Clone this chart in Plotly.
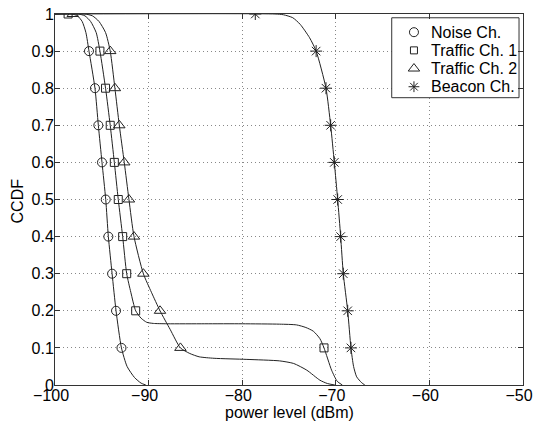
import plotly.graph_objects as go

# ---- smooth CCDF curves ----
noise_x = [-100, -98.2, -97.6, -97.1, -96.7, -96.37, -95.73, -95.37, -94.98, -94.58, -94.3, -93.9, -93.48, -92.9, -92.3, -91.5, -90.8, -90.3]
noise_y = [1, 1, 0.995, 0.98, 0.95, 0.9, 0.8, 0.7, 0.6, 0.5, 0.4, 0.3, 0.2, 0.1, 0.05, 0.02, 0.005, 0]

traffic1_x = [-100, -97.5, -96.8, -96.2, -95.6, -95.2, -94.6, -94.1, -93.66, -93.24, -92.77, -92.34, -91.9, -91.38, -90.8, -90.2, -89.5, -88, -84, -80, -76, -74.2, -73.2, -72.4, -71.7, -71.26, -70.45, -69.85, -69.3]
traffic1_y = [1, 1, 0.995, 0.98, 0.95, 0.9, 0.8, 0.7, 0.6, 0.5, 0.4, 0.3, 0.25, 0.2, 0.18, 0.169, 0.166, 0.165, 0.165, 0.165, 0.164, 0.162, 0.155, 0.145, 0.125, 0.1, 0.04, 0.01, 0]

traffic2_x = [-100, -96.8, -96.0, -95.3, -94.6, -94.1, -93.6, -93.13, -92.6, -92.1, -91.56, -90.56, -89.7, -88.78, -87.7, -86.6, -85.6, -84.6, -83, -79.5, -76, -74.5, -73.1, -71.7, -70.9, -70.1]
traffic2_y = [1, 1, 0.995, 0.98, 0.95, 0.9, 0.8, 0.7, 0.6, 0.5, 0.4, 0.3, 0.25, 0.2, 0.15, 0.1, 0.085, 0.076, 0.072, 0.069, 0.065, 0.058, 0.04, 0.013, 0.004, 0]

beacon_x = [-100, -76.5, -75.6, -74.6, -73.8, -72.8, -72.1, -71.05, -70.55, -70.16, -69.8, -69.48, -69.2, -68.73, -68.38, -68.1, -67.77, -67.23, -66.9]
beacon_y = [1, 1, 0.998, 0.99, 0.972, 0.936, 0.9, 0.8, 0.7, 0.6, 0.5, 0.4, 0.3, 0.2, 0.1, 0.05, 0.022, 0.006, 0]

# ---- marker positions ----
noise_mx = [-96.37, -95.73, -95.37, -94.98, -94.58, -94.3, -93.9, -93.48, -92.9]
noise_my = [0.9, 0.8, 0.7, 0.6, 0.5, 0.4, 0.3, 0.2, 0.1]

traffic1_mx = [-98.6, -95.2, -94.6, -94.1, -93.66, -93.24, -92.77, -92.34, -91.38, -71.26]
traffic1_my = [1, 0.9, 0.8, 0.7, 0.6, 0.5, 0.4, 0.3, 0.2, 0.1]

traffic2_mx = [-98.1, -94.1, -93.6, -93.13, -92.6, -92.1, -91.56, -90.56, -88.78, -86.6]
traffic2_my = [1, 0.9, 0.8, 0.7, 0.6, 0.5, 0.4, 0.3, 0.2, 0.1]

beacon_mx = [-78.6, -72.1, -71.05, -70.55, -70.16, -69.8, -69.48, -69.2, -68.73, -68.38]
beacon_my = [1, 0.9, 0.8, 0.7, 0.6, 0.5, 0.4, 0.3, 0.2, 0.1]

names = ["Noise Ch.", "Traffic Ch. 1", "Traffic Ch. 2", "Beacon Ch."]
x_ticks = [-100, -90, -80, -70, -60, -50]
y_ticks = [0, 0.1, 0.2, 0.3, 0.4, 0.5, 0.6, 0.7, 0.8, 0.9, 1]
X_RANGE = [-100, -50]

FONT = "Arial, Liberation Sans, sans-serif"
LINE = "#222222"

symbols = ["circle-open", "square-open", "triangle-up-open", "asterisk-open"]
sizes = [9, 8, 10, 10]
legend_sizes = [9, 7, 10, 9]

fig = go.Figure()

curves = [(noise_x, noise_y), (traffic1_x, traffic1_y), (traffic2_x, traffic2_y), (beacon_x, beacon_y)]
for cx, cy in curves:
    fig.add_trace(go.Scatter(x=cx, y=cy, mode="lines", showlegend=False, hoverinfo="skip",
                             line=dict(color=LINE, width=1, shape="spline", smoothing=0.6)))

marker_sets = [(noise_mx, noise_my), (traffic1_mx, traffic1_my),
               (traffic2_mx, traffic2_my), (beacon_mx, beacon_my)]
for (mx, my), sym, sz, nm in zip(marker_sets, symbols, sizes, names):
    fig.add_trace(go.Scatter(x=mx, y=my, mode="markers", name=nm, showlegend=False,
                             marker=dict(symbol=sym, size=sz, color=LINE,
                                         line=dict(color=LINE, width=1))))

# ---- legend box (MATLAB style: symbol only, compact rows) ----
def px_x(frac):  # fraction of plot width -> x data value
    return X_RANGE[0] + frac * (X_RANGE[1] - X_RANGE[0])

box_left, box_right, box_top, box_bottom = 0.7195, 0.9915, 0.9898, 0.7744
row_y = [0.951, 0.902, 0.853, 0.804]
sym_x = 0.767
text_x = 0.800

fig.add_shape(type="rect", xref="x", yref="y",
              x0=px_x(box_left), x1=px_x(box_right), y0=box_bottom, y1=box_top,
              line=dict(color="#333333", width=1), fillcolor="white", layer="between")
for ry, sym, sz, nm in zip(row_y, symbols, legend_sizes, names):
    fig.add_trace(go.Scatter(x=[px_x(sym_x)], y=[ry], mode="markers", showlegend=False, hoverinfo="skip",
                             marker=dict(symbol=sym, size=sz, color=LINE, line=dict(color=LINE, width=1))))
    fig.add_annotation(x=text_x, y=ry, xref="paper", yref="paper", text=nm, showarrow=False,
                       xanchor="left", yanchor="middle",
                       font=dict(family=FONT, size=16, color="black"))

axis_common = dict(showline=True, linecolor="#333333", linewidth=1, mirror="ticks",
                   ticks="inside", ticklen=5, tickcolor="#333333",
                   showgrid=True, gridcolor="#888888", griddash="1px,3px", gridwidth=1,
                   zeroline=False, ticklabeloverflow="allow",
                   tickfont=dict(family=FONT, size=16, color="black"))

fig.update_xaxes(range=X_RANGE, tickvals=x_ticks, ticklabelstandoff=-4, ticklabelshift=-4, **axis_common)
fig.update_yaxes(range=[0, 1], tickvals=y_ticks, ticklabelstandoff=-3, **axis_common)

# axis titles
fig.add_annotation(x=0.5, y=-0.073, xref="paper", yref="paper", text="power level (dBm)",
                   showarrow=False, xanchor="center", yanchor="middle", borderpad=0,
                   font=dict(family=FONT, size=16, color="black"))
fig.add_annotation(x=-0.081, y=0.495, xref="paper", yref="paper", text="CCDF", textangle=-90,
                   showarrow=False, xanchor="center", yanchor="middle",
                   font=dict(family=FONT, size=16, color="black"))

fig.update_layout(
    width=534, height=428,
    margin=dict(l=55, r=11, t=14, b=43, autoexpand=False),
    paper_bgcolor="white", plot_bgcolor="white",
    font=dict(family=FONT, size=16, color="black"),
    showlegend=False,
)

fig.write_html("out.html", config={"displayModeBar": False},
               post_script="document.body.style.margin='0';document.body.style.overflow='hidden';")
